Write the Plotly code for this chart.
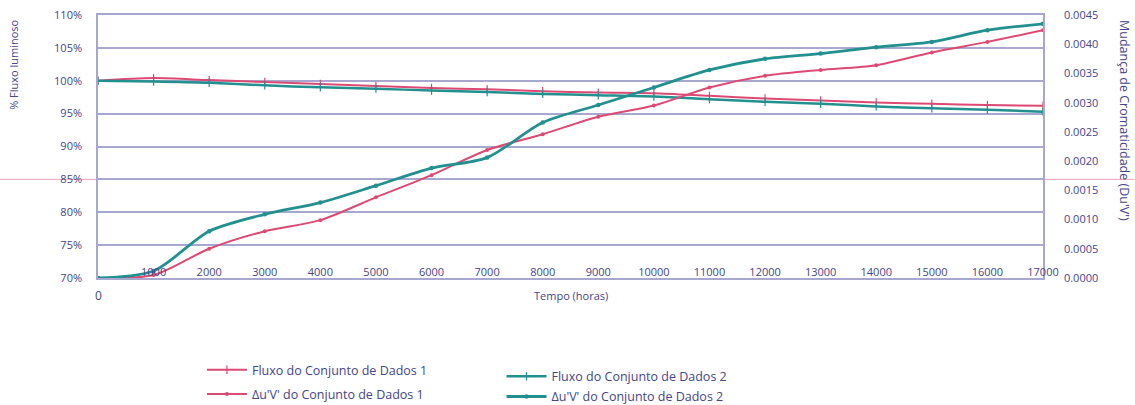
import plotly.graph_objects as go

# Time axis (hours)
hours = [0, 1000, 2000, 3000, 4000, 5000, 6000, 7000, 8000, 9000,
         10000, 11000, 12000, 13000, 14000, 15000, 16000, 17000]
x_tick_labels = ["1000", "2000", "3000", "4000", "5000", "6000", "7000", "8000",
                 "9000", "10000", "11000", "12000", "13000", "14000", "15000",
                 "16000", "17000"]

# Luminous flux (% of initial)
flux_set1 = [100.0, 100.4, 100.1, 99.8, 99.5, 99.2, 98.9, 98.7, 98.4, 98.2,
             98.1, 97.7, 97.3, 97.0, 96.7, 96.5, 96.3, 96.2]
flux_set2 = [100.0, 99.9, 99.7, 99.3, 99.0, 98.8, 98.5, 98.3, 98.0, 97.8,
             97.6, 97.2, 96.8, 96.5, 96.1, 95.8, 95.6, 95.3]

# Chromaticity shift Du'v'
duv_set1 = [0.0, 0.00005, 0.00050, 0.00080, 0.00099, 0.00138, 0.00176, 0.00219,
            0.00246, 0.00276, 0.00295, 0.00326, 0.00346, 0.00356, 0.00364,
            0.00386, 0.00404, 0.00424]
duv_set2 = [0.0, 0.00012, 0.00080, 0.00109, 0.00129, 0.00158, 0.00188, 0.00206,
            0.00266, 0.00296, 0.00326, 0.00356, 0.00375, 0.00384, 0.00395,
            0.00404, 0.00424, 0.00435]

flux_ticks = [70, 75, 80, 85, 90, 95, 100, 105, 110]
flux_tick_labels = ["70%", "75%", "80%", "85%", "90%", "95%", "100%", "105%", "110%"]
duv_ticks = [0.0, 0.0005, 0.001, 0.0015, 0.002, 0.0025, 0.003, 0.0035, 0.004, 0.0045]

PINK = "#dc4a74"
TEAL = "#22908f"
TEXT = "#45458a"
GRID = "#a7a7cf"
FONT = "Open Sans, Verdana, sans-serif"

fig = go.Figure()

fig.add_trace(go.Scatter(
    x=hours, y=flux_set1, name="Fluxo do Conjunto de Dados 1",
    mode="lines+markers", line=dict(color=PINK, width=2, shape="spline", smoothing=0.8),
    marker=dict(symbol="line-ns", size=6, line=dict(color=PINK, width=1.2)),
    legend="legend", legendgroup="f1"))
fig.add_trace(go.Scatter(
    x=hours, y=duv_set1, name="Δu'V' do Conjunto de Dados 1", yaxis="y2",
    mode="lines+markers", line=dict(color=PINK, width=2, shape="spline", smoothing=0.8),
    marker=dict(symbol="circle", size=4, color=PINK),
    legend="legend", legendgroup="d1"))
fig.add_trace(go.Scatter(
    x=hours, y=flux_set2, name="Fluxo do Conjunto de Dados 2",
    mode="lines+markers", line=dict(color=TEAL, width=2.5, shape="spline", smoothing=0.8),
    marker=dict(symbol="line-ns", size=6, line=dict(color=TEAL, width=1.2)),
    legend="legend2", legendgroup="f2"))
fig.add_trace(go.Scatter(
    x=hours, y=duv_set2, name="Δu'V' do Conjunto de Dados 2", yaxis="y2",
    mode="lines+markers", line=dict(color=TEAL, width=2.8, shape="spline", smoothing=0.8),
    marker=dict(symbol="circle", size=4.5, color=TEAL),
    legend="legend2", legendgroup="d2"))

legend_style = dict(font=dict(family=FONT, size=12.5, color=TEXT),
                    bgcolor="rgba(0,0,0,0)", orientation="v",
                    yanchor="top", xanchor="left", itemwidth=40)

fig.update_layout(
    template="none",
    width=1135, height=405,
    margin=dict(l=98, r=92, t=15, b=127, autoexpand=False),
    paper_bgcolor="white", plot_bgcolor="white",
    font=dict(family=FONT, color=TEXT, size=11),
    showlegend=True,
    legend=dict(x=0.11, y=-0.293, tracegroupgap=5, **legend_style),
    legend2=dict(x=0.427, y=-0.318, tracegroupgap=1, **legend_style),
    xaxis=dict(
        range=[0, 17000], tickvals=hours[1:], ticktext=x_tick_labels,
        ticklabelposition="inside", ticklabelstandoff=-1, ticklabeloverflow="allow",
        ticks="", showgrid=False,
        showline=True, linecolor=GRID, linewidth=1.5, mirror=True,
        zeroline=False, tickfont=dict(size=11, color=TEXT)),
    yaxis=dict(
        range=[70, 110], tickvals=flux_ticks, ticktext=flux_tick_labels,
        showgrid=True, gridcolor=GRID, gridwidth=1.5,
        showline=True, linecolor=GRID, linewidth=1.5,
        zeroline=False, ticks="", ticklabelstandoff=12, ticklabeloverflow="allow",
        tickfont=dict(size=11, color=TEXT)),
    yaxis2=dict(
        range=[0, 0.0045], tickvals=duv_ticks, tickformat=".4f",
        overlaying="y", side="right", showgrid=False,
        showline=True, linecolor=GRID, linewidth=1.5,
        zeroline=False, ticks="", ticklabelstandoff=17, ticklabeloverflow="allow",
        tickfont=dict(size=11, color=TEXT)),
    shapes=[dict(type="line", xref="paper", yref="y", x0=-0.104, x1=1.097,
                 y0=85, y1=85, line=dict(color="rgba(225,100,140,0.6)", width=1),
                 layer="below")],
    annotations=[
        dict(text="Tempo (horas)", xref="paper", yref="paper", x=0.5, y=-0.068,
             xanchor="center", yanchor="middle",
             showarrow=False, font=dict(size=11, color=TEXT)),
        dict(text="0", xref="x", yref="paper", x=0, y=-0.068,
             xanchor="center", yanchor="middle",
             showarrow=False, font=dict(size=12, color=TEXT)),
        dict(text="% Fluxo luminoso", xref="paper", yref="paper", x=-0.089, y=0.81,
             xanchor="center", yanchor="middle",
             textangle=-90, showarrow=False, font=dict(size=11, color=TEXT)),
        dict(text="Mudança de Cromaticidade (Du'V')", xref="paper", yref="paper",
             x=1.087, y=0.6, xanchor="center", yanchor="middle", textangle=90,
             showarrow=False, font=dict(size=12.5, color=TEXT)),
    ],
)

fig.write_html("out.html")
